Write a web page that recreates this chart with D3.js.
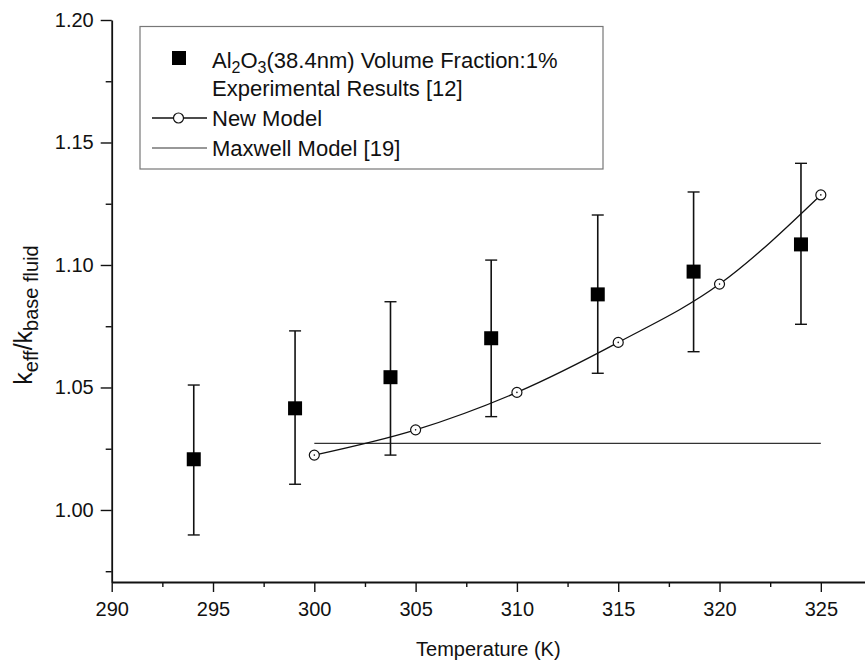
<!DOCTYPE html>
<html>
<head>
<meta charset="utf-8">
<script src="https://cdn.jsdelivr.net/npm/d3@7"></script>
<style>
  body { margin: 0; background: #fff; }
  text { font-family: "Liberation Sans", Arial, sans-serif; fill: #111; }
  .axis path, .axis line { stroke: #111; }
</style>
</head>
<body>
<div id="chart"></div>
<script>
// experimental results (squares with error bars)
var expTemp  = [294.05, 299.05, 303.76, 308.73, 313.99, 318.72, 324.02];
var expValue = [1.0207, 1.0415, 1.0542, 1.0701, 1.0880, 1.0973, 1.1084];
var expLow   = [0.9898, 1.0105, 1.0224, 1.0381, 1.0558, 1.0646, 1.0758];
var expHigh  = [1.0510, 1.0731, 1.0850, 1.1020, 1.1204, 1.1298, 1.1415];

// new model (open circles + line)
var modelTemp  = [300, 305, 310, 315, 320, 325];
var modelValue = [1.0224, 1.0327, 1.0480, 1.0684, 1.0922, 1.1286];

// maxwell model (thin flat line)
var maxwellTemp  = [300, 305, 310, 315, 320, 325];
var maxwellValue = [1.0272, 1.0272, 1.0272, 1.0272, 1.0272, 1.0272];

// axis ticks
var xTicks = [290, 295, 300, 305, 310, 315, 320, 325];
var xMinorTicks = [292.5, 297.5, 302.5, 307.5, 312.5, 317.5, 322.5];
var yTicks = [1.00, 1.05, 1.10, 1.15, 1.20];
var yMinorTicks = [0.975, 1.025, 1.075, 1.125, 1.175];

var legendLabels = ["Experimental Results [12]", "New Model", "Maxwell Model [19]"];

// set the dimensions and margins of the graph
var margin = {top: 20, right: 0, bottom: 84, left: 111.7},
    width = 865 - margin.left - margin.right,
    height = 666 - margin.top - margin.bottom;

var svg = d3.select("#chart")
  .append("svg")
  .attr("width", 865)
  .attr("height", 666)
  .append("g")
    .attr("transform", "translate(" + margin.left + "," + margin.top + ")");

var x = d3.scaleLinear()
  .domain([290, 327.18])
  .range([0, width]);

var y = d3.scaleLinear()
  .domain([0.9706, 1.20])
  .range([height, 0]);

// X axis
svg.append("g")
  .attr("class", "axis")
  .attr("transform", "translate(0," + height + ")")
  .call(d3.axisBottom(x).tickValues(xMinorTicks).tickSize(5).tickFormat(""))
  .call(g => g.select(".domain").remove())
  .selectAll("line").attr("stroke-width", 1.4);

svg.append("g")
  .attr("class", "axis")
  .attr("transform", "translate(0," + height + ")")
  .call(d3.axisBottom(x).tickValues(xTicks).tickSize(10).tickSizeOuter(0).tickPadding(10).tickFormat(d3.format("d")))
  .call(g => g.selectAll("text").style("font-size", "20px").attr("fill", "#111"))
  .call(g => g.select(".domain").attr("stroke-width", 1.8))
  .selectAll("line").attr("stroke-width", 1.4);

// Y axis
svg.append("g")
  .attr("class", "axis")
  .call(d3.axisLeft(y).tickValues(yMinorTicks).tickSize(6).tickFormat(""))
  .call(g => g.select(".domain").remove())
  .selectAll("line").attr("stroke-width", 1.4);

svg.append("g")
  .attr("class", "axis")
  .call(d3.axisLeft(y).tickValues(yTicks).tickSize(11).tickSizeOuter(0).tickPadding(7).tickFormat(d3.format(".2f")))
  .call(g => g.selectAll("text").style("font-size", "20px").attr("fill", "#111"))
  .call(g => g.select(".domain").attr("stroke-width", 1.8))
  .selectAll("line").attr("stroke-width", 1.4);

// axis labels
svg.append("text")
  .attr("x", width / 2)
  .attr("y", height + 74)
  .style("text-anchor", "middle")
  .style("font-size", "20px")
  .text("Temperature (K)");

var yLab = svg.append("text")
  .attr("transform", "rotate(-90)")
  .attr("x", -(315 - margin.top))
  .attr("y", 32 - margin.left)
  .style("text-anchor", "middle")
  .style("font-size", "25px");
yLab.append("tspan").text("k");
yLab.append("tspan").attr("dy", 6).style("font-size", "20px").text("eff");
yLab.append("tspan").attr("dy", -6).text("/k");
yLab.append("tspan").attr("dy", 6).style("font-size", "20px").text("base fluid");

// maxwell model line
var maxwell = maxwellTemp.map(function(t, i) { return {t: t, v: maxwellValue[i]}; });
svg.append("path")
  .datum(maxwell)
  .attr("fill", "none")
  .attr("stroke", "#333")
  .attr("stroke-width", 1.1)
  .attr("d", d3.line()
    .x(function(d) { return x(d.t); })
    .y(function(d) { return y(d.v); }));

// error bars + squares
var exp = expTemp.map(function(t, i) {
  return {t: t, v: expValue[i], lo: expLow[i], hi: expHigh[i]};
});
var bars = svg.selectAll("g.ebar")
  .data(exp)
  .enter()
  .append("g")
  .attr("class", "ebar");
bars.append("line")
  .attr("x1", d => x(d.t)).attr("x2", d => x(d.t))
  .attr("y1", d => y(d.lo)).attr("y2", d => y(d.hi))
  .attr("stroke", "#111").attr("stroke-width", 1.6);
bars.append("line")
  .attr("x1", d => x(d.t) - 6).attr("x2", d => x(d.t) + 6)
  .attr("y1", d => y(d.hi)).attr("y2", d => y(d.hi))
  .attr("stroke", "#111").attr("stroke-width", 1.4);
bars.append("line")
  .attr("x1", d => x(d.t) - 6).attr("x2", d => x(d.t) + 6)
  .attr("y1", d => y(d.lo)).attr("y2", d => y(d.lo))
  .attr("stroke", "#111").attr("stroke-width", 1.4);

// new model line + circles
var model = modelTemp.map(function(t, i) { return {t: t, v: modelValue[i]}; });
svg.append("path")
  .datum(model)
  .attr("fill", "none")
  .attr("stroke", "#111")
  .attr("stroke-width", 1.3)
  .attr("d", d3.line()
    .x(function(d) { return x(d.t); })
    .y(function(d) { return y(d.v); })
    .curve(d3.curveMonotoneX));

svg.selectAll("circle.model")
  .data(model)
  .enter()
  .append("circle")
  .attr("class", "model")
  .attr("cx", d => x(d.t))
  .attr("cy", d => y(d.v))
  .attr("r", 5)
  .attr("fill", "#fff")
  .attr("stroke", "#111")
  .attr("stroke-width", 1.2);
svg.selectAll("circle.dot")
  .data(model)
  .enter()
  .append("circle")
  .attr("class", "dot")
  .attr("cx", d => x(d.t))
  .attr("cy", d => y(d.v))
  .attr("r", 0.8)
  .attr("fill", "#111");

bars.append("rect")
  .attr("x", d => x(d.t) - 7)
  .attr("y", d => y(d.v) - 7)
  .attr("width", 14)
  .attr("height", 14)
  .attr("fill", "#000");

// Legend
var lg = svg.append("g")
  .attr("transform", "translate(" + (140 - margin.left) + "," + (26.5 - margin.top) + ")");
lg.append("rect")
  .attr("width", 463).attr("height", 142.5)
  .attr("fill", "#fff")
  .attr("stroke", "#777")
  .attr("stroke-width", 1.2);

lg.append("rect")
  .attr("x", 32).attr("y", 24.5)
  .attr("width", 14).attr("height", 14)
  .attr("fill", "#000");

var t1 = lg.append("text").attr("x", 72).attr("y", 41.5).style("font-size", "22px");
t1.append("tspan").text("Al");
t1.append("tspan").attr("dy", 5).style("font-size", "16px").text("2");
t1.append("tspan").attr("dy", -5).text("O");
t1.append("tspan").attr("dy", 5).style("font-size", "16px").text("3");
t1.append("tspan").attr("dy", -5).text("(38.4nm) Volume Fraction:1%");

lg.append("text").attr("x", 72).attr("y", 69.5).style("font-size", "22px").text(legendLabels[0]);

lg.append("line")
  .attr("x1", 12).attr("x2", 67).attr("y1", 91.5).attr("y2", 91.5)
  .attr("stroke", "#111").attr("stroke-width", 1.3);
lg.append("circle")
  .attr("cx", 38.5).attr("cy", 91.5).attr("r", 5)
  .attr("fill", "#fff").attr("stroke", "#111").attr("stroke-width", 1.2);
lg.append("text").attr("x", 72).attr("y", 99.5).style("font-size", "22px").text(legendLabels[1]);

lg.append("line")
  .attr("x1", 12).attr("x2", 67).attr("y1", 121.5).attr("y2", 121.5)
  .attr("stroke", "#333").attr("stroke-width", 1.1);
lg.append("text").attr("x", 72).attr("y", 129.5).style("font-size", "22px").text(legendLabels[2]);
</script>
</body>
</html>
